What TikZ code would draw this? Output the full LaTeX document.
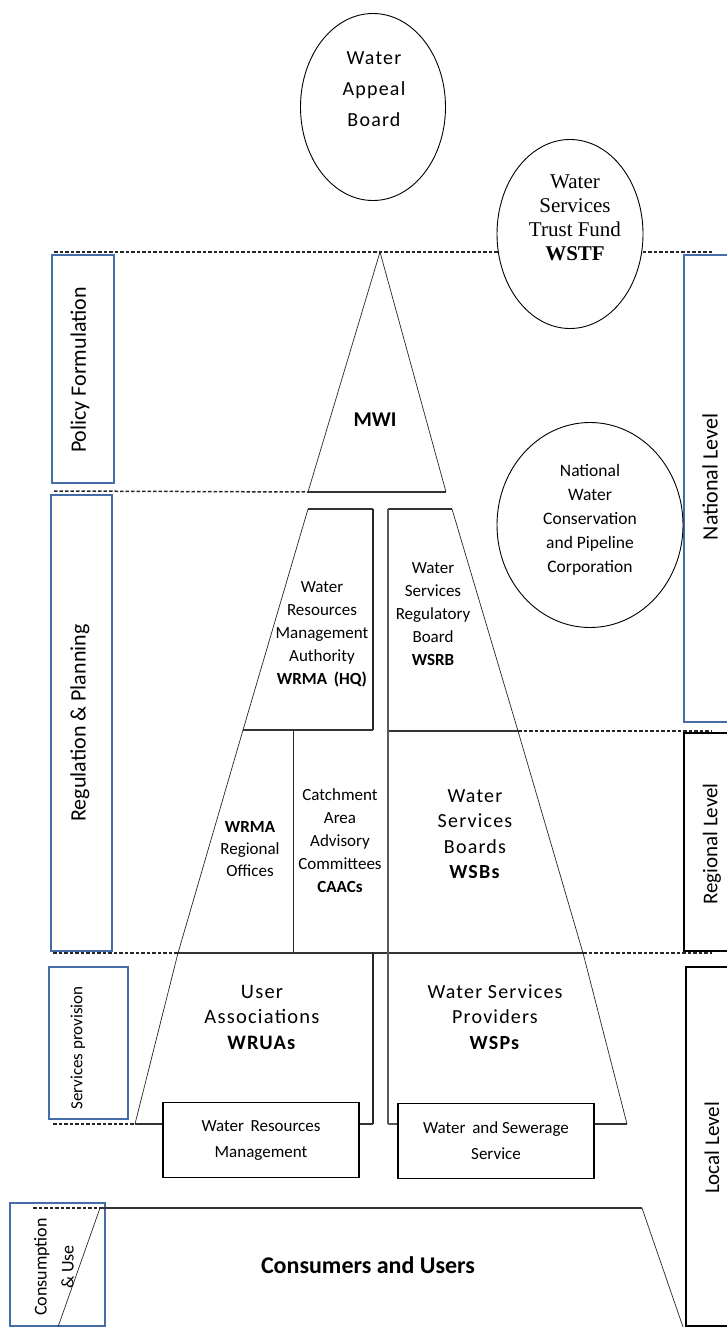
\documentclass[tikz,border=0pt]{standalone}
\usepackage{fontspec}
\setsansfont{Carlito}
\newfontfamily\spacedfont[LetterSpace=6]{Carlito}
\newfontfamily\timesfont{Liberation Serif}
\usetikzlibrary{shapes}
\definecolor{boxblue}{RGB}{68,108,166}

\begin{document}
\begin{tikzpicture}[x = 1pt, y = -1pt, font=\sffamily]
	\tikzstyle{dashStyle} = [draw = black!85, line width = 1.5pt, dash pattern = on 3.5pt off 2pt]
	\tikzstyle{slantStyle} = [draw = black!85, line width = 0.7pt]
	\tikzstyle{baseStyle} = [draw = black!80, line width = 1.7pt]
	\tikzstyle{splitStyle} = [draw = black!85, line width = 1.1pt]
	\tikzstyle{ovalStyle} = [shape = ellipse, draw, fill = white, line width = 0.9pt, inner sep = 0pt]
	\tikzstyle{textStyle} = [align = center, inner sep = 0pt]
	\tikzstyle{sideBoxStyle} = [draw = boxblue, line width = 1.5pt]
	\tikzstyle{levelBoxStyle} = [draw = black, line width = 1.5pt]
	\tikzstyle{sideTextStyle} = [rotate = 90, align = center, inner sep = 0pt, font = \sffamily\fontsize{22}{26}\selectfont]
	\tikzstyle{serviceStyle} = [shape = rectangle, draw, line width = 1.5pt, fill = white, align = center, minimum width = 196pt, minimum height = 75pt, font = \sffamily\fontsize{17}{26}\selectfont]
	\useasboundingbox (0,0) rectangle (727,1327);
	\clip (0,0) rectangle (727,1327);
	% pyramid corners
	\coordinate (apex) at (380,252);
	\coordinate (mwiL) at (308,492);
	\coordinate (mwiR) at (446,492);
	\coordinate (hqTL) at (308,509);
	\coordinate (hqTR) at (373,509);
	\coordinate (hqBR) at (373,730);
	\coordinate (hqBL) at (243,730);
	\coordinate (rbTL) at (388,509);
	\coordinate (rbTR) at (452,509);
	\coordinate (rbBR) at (518,731);
	\coordinate (rbBL) at (388,731);
	\coordinate (divT) at (293,730);
	\coordinate (divB) at (293,953);
	\coordinate (regBL) at (178,953);
	\coordinate (regBR) at (583,953);
	\coordinate (uaT) at (373,953);
	\coordinate (uaB) at (373,1124);
	\coordinate (spB) at (388,1124);
	\coordinate (locBL) at (135,1124);
	\coordinate (locBR) at (627,1124);
	\coordinate (conTL) at (100,1208);
	\coordinate (conTR) at (642,1208);
	\coordinate (conBL) at (58,1327);
	\coordinate (conBR) at (683,1327);
	% level lines
	\draw[dashStyle] (54,252) -- (713,252);
	\draw[dashStyle] (54,491) -- (mwiL);
	\draw[dashStyle] (rbBR) -- (712,731);
	\draw[dashStyle] (53,953) -- (regBL);
	\draw[dashStyle] (regBR) -- (712,953);
	\draw[dashStyle] (53,1124) -- (locBL);
	\draw[dashStyle] (33,1208) -- (conTL);
	% side boxes
	\draw[sideBoxStyle] (52,255) rectangle (114,483);
	\draw[sideBoxStyle] (51,495) rectangle (112,951);
	\draw[sideBoxStyle] (49,967) rectangle (128,1119);
	\draw[sideBoxStyle] (10,1203) rectangle (105,1326);
	\draw[sideBoxStyle] (684,255) rectangle (732,722);
	\draw[levelBoxStyle] (684,733) rectangle (732,951);
	\draw[levelBoxStyle] (686,967) rectangle (732,1326);
	\node[sideTextStyle] (pf) at (80,370) {Policy Formulation};
	\node[sideTextStyle] (rp) at (80,723) {Regulation \& Planning};
	\node[sideTextStyle, font = \sffamily\fontsize{17}{20}\selectfont] (sp) at (78,1048) {Services provision};
	\node[sideTextStyle, font = \sffamily\fontsize{18}{27}\selectfont] (cu) at (54,1267) {Consumption\\\& Use};
	\node[sideTextStyle] (nl) at (710,477) {National Level};
	\node[sideTextStyle, font = \sffamily\fontsize{21}{24}\selectfont] (rl) at (712,844) {Regional Level};
	\node[sideTextStyle, font = \sffamily\fontsize{21}{24}\selectfont] (ll) at (712,1148) {Local Level};
	% MWI triangle
	\draw[slantStyle] (mwiL) -- (apex) -- (mwiR);
	\draw[baseStyle] (mwiL) -- (mwiR);
	\node[textStyle, font = \sffamily\bfseries\fontsize{21}{24}\selectfont] (mwi) at (375,420) {MWI};
	% WRMA HQ and regional level
	\draw[baseStyle] (hqTL) -- (hqTR);
	\draw[splitStyle] (hqTR) -- (hqBR);
	\draw[baseStyle] (hqBR) -- (hqBL);
	\draw[slantStyle] (hqTL) -- (hqBL) -- (regBL) -- (locBL);
	\draw[slantStyle] (divT) -- (divB);
	\draw[baseStyle] (regBL) -- (regBR);
	% WSRB side
	\draw[baseStyle] (rbTL) -- (rbTR);
	\draw[slantStyle] (rbTR) -- (rbBR) -- (regBR) -- (locBR);
	\draw[baseStyle] (rbBR) -- (rbBL);
	\draw[splitStyle, draw = black!65] (rbTL) -- (spB);
	\draw[splitStyle] (uaT) -- (uaB);
	% service boxes
	\node[serviceStyle] (wrm) at (261,1140) {Water\, Resources\\Management};
	\node[serviceStyle] (wss) at (496,1141) {Water\, and Sewerage\\Service};
	\draw[baseStyle] (locBL) -- (locBL -| wrm.west);
	\draw[baseStyle] (wrm.east |- uaB) -- (uaB);
	\draw[baseStyle, draw = black!65] (spB) -- (spB -| wss.west);
	\draw[baseStyle] (wss.east |- locBR) -- (locBR);
	% consumers
	\draw[slantStyle] (conBL) -- (conTL);
	\draw[baseStyle, line width = 1.4pt] (conTL) -- (conTR);
	\draw[slantStyle] (conTR) -- (conBR);
	\node[textStyle, font = \sffamily\bfseries\fontsize{24}{28}\selectfont] (cons) at (368,1265) {Consumers and Users};
	% ovals
	\node[ovalStyle, minimum width = 145pt, minimum height = 187pt] (wab) at (373,107) {};
	\node[textStyle, font = \spacedfont\fontsize{20}{31}\selectfont] (wabt) at (374,89) {Water\\Appeal\\Board};
	\node[ovalStyle, minimum width = 146pt, minimum height = 189pt] (wstf) at (570,234) {};
	\node[textStyle, font = \timesfont\fontsize{21}{24}\selectfont] (wstft) at (575,218) {Water\\Services\\Trust Fund\\\textbf{WSTF}};
	\node[ovalStyle, minimum width = 186pt, minimum height = 205pt] (nwc) at (590,525) {};
	\node[textStyle, font = \sffamily\fontsize{17.5}{24}\selectfont] (nwct) at (590,520) {National\\Water\\Conservation\\and Pipeline\\Corporation};
	% organisation labels
	\node[textStyle, font = \sffamily\fontsize{17}{23}\selectfont] (hq) at (322,634) {Water\\Resources\\Management\\Authority\\\textbf{WRMA\, (HQ)}};
	\node[textStyle, font = \sffamily\fontsize{17}{23}\selectfont] (wsrb) at (433,614) {Water\\Services\\Regulatory\\Board\\\textbf{WSRB}};
	\node[textStyle, font = \sffamily\fontsize{17}{22}\selectfont] (ro) at (250,849) {\textbf{WRMA}\\Regional\\Offices};
	\node[textStyle, font = \sffamily\fontsize{17}{23}\selectfont] (caac) at (340,841) {Catchment\\Area\\Advisory\\Committees\\\textbf{CAACs}};
	\node[textStyle, font = \spacedfont\fontsize{20}{25.5}\selectfont] (wsb) at (475,834) {Water\\Services\\Boards\\\textbf{WSBs}};
	\node[textStyle, font = \spacedfont\fontsize{20.5}{25.5}\selectfont] (wrua) at (262,1017) {User\\Associations\\\textbf{WRUAs}};
	\node[textStyle, font = \spacedfont\fontsize{20}{25.5}\selectfont] (wsp) at (495,1017) {Water Services\\Providers\\\textbf{WSPs}};
\end{tikzpicture}
\end{document}
